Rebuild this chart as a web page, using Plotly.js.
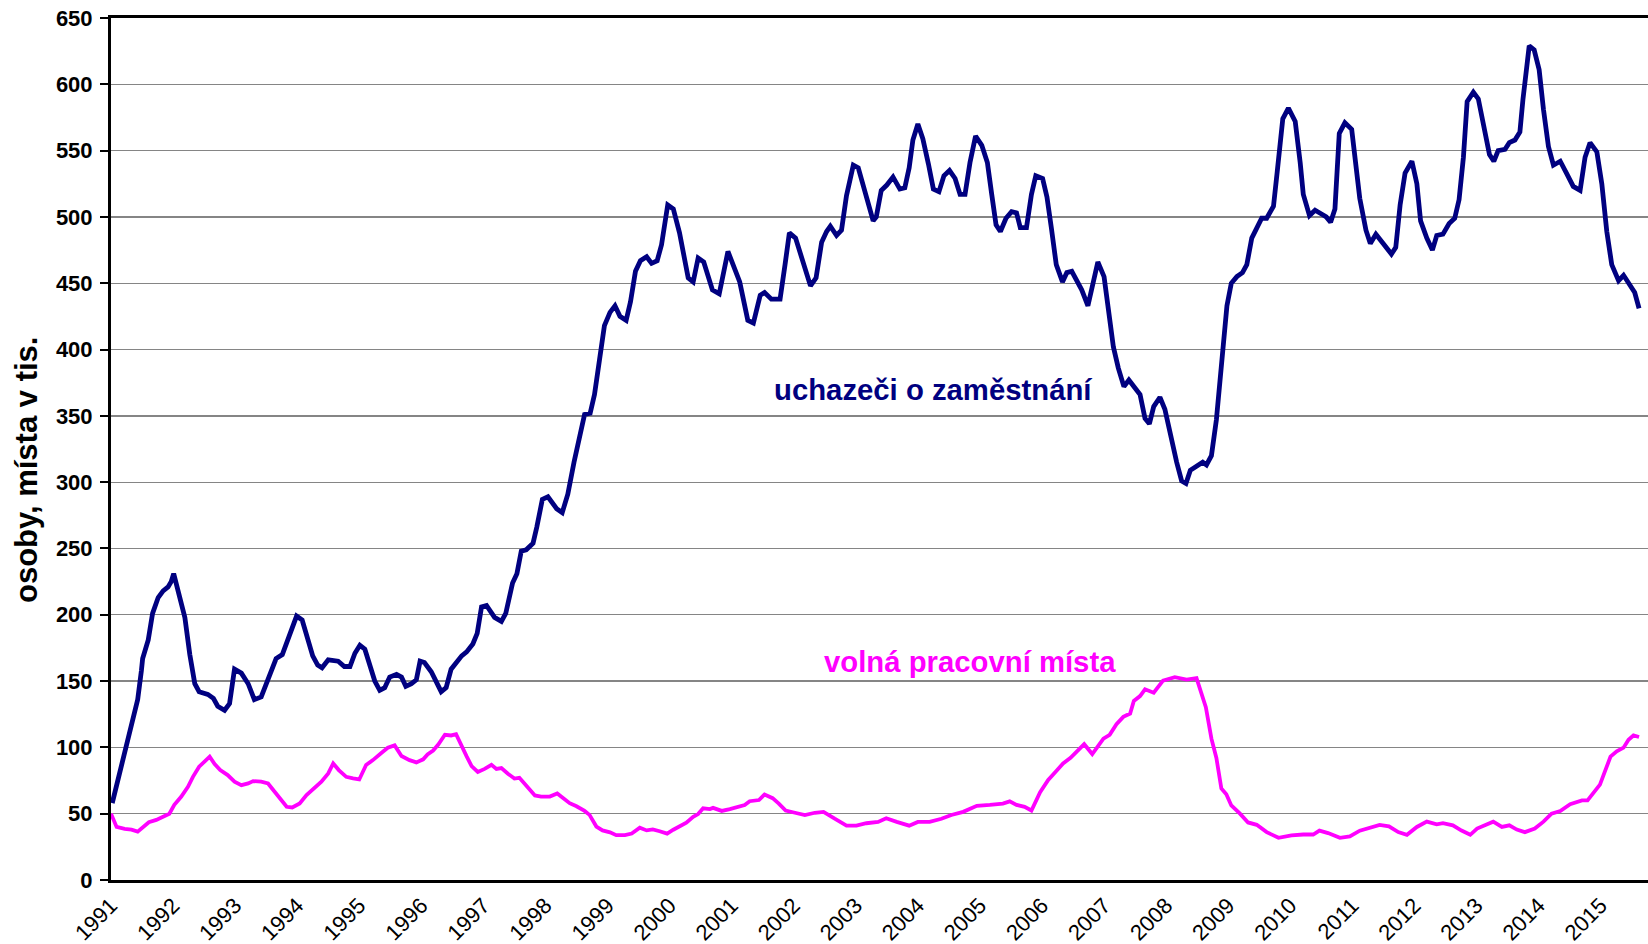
<!DOCTYPE html>
<html>
<head>
<meta charset="utf-8">
<script src="https://cdn.plot.ly/plotly-3.0.1.min.js"></script>
<style>
  html, body { margin: 0; padding: 0; background: #ffffff; }
  #chart { width: 1648px; height: 944px; }
</style>
</head>
<body>
<div id="chart"></div>
<script>
// ---- data (time in decimal years, values in thousands) ----
var tickYears = [1991,1992,1993,1994,1995,1996,1997,1998,1999,2000,2001,2002,2003,2004,2005,2006,2007,2008,2009,2010,2011,2012,2013,2014,2015];
var tickLabels = ["1991","1992","1993","1994","1995","1996","1997","1998","1999","2000","2001","2002","2003","2004","2005","2006","2007","2008","2009","2010","2011","2012","2013","2014","2015"];

var uchazeciTime = [
 1991.02,1991.19,1991.35,1991.43,1991.49,1991.51,1991.60,1991.67,1991.76,1991.84,1991.92,1991.97,
 1992.01,1992.09,1992.19,1992.27,1992.35,1992.42,1992.56,1992.65,1992.72,1992.83,1992.91,1992.99,
 1993.10,1993.21,1993.31,1993.42,1993.56,1993.66,1993.76,1993.88,1993.99,
 1994.08,1994.15,1994.25,1994.33,1994.40,1994.50,1994.66,1994.76,1994.85,1994.93,
 1995.01,1995.09,1995.17,1995.25,1995.33,1995.41,1995.49,1995.60,1995.68,1995.75,1995.84,1995.92,1995.98,
 1996.05,1996.16,1996.32,1996.40,1996.48,1996.65,1996.73,1996.83,1996.90,1996.97,
 1997.05,1997.18,1997.29,1997.36,1997.47,1997.54,1997.61,1997.69,1997.80,1997.86,1997.95,
 1998.04,1998.18,1998.27,1998.36,1998.46,1998.55,1998.63,1998.72,1998.79,1998.87,1998.95,
 1999.04,1999.12,1999.20,1999.30,1999.37,1999.45,1999.53,1999.63,1999.71,1999.80,1999.87,1999.97,
 2000.06,2000.16,2000.30,2000.38,2000.46,2000.55,2000.69,2000.80,2000.94,
 2001.02,2001.13,2001.26,2001.35,2001.46,2001.53,2001.64,2001.78,2001.86,2001.93,
 2002.03,2002.13,2002.21,2002.27,2002.36,2002.45,2002.53,2002.59,2002.69,2002.77,2002.85,2002.96,
 2003.04,2003.12,2003.20,2003.28,2003.33,2003.41,2003.50,2003.60,2003.71,2003.79,2003.86,2003.92,
 2004.00,2004.08,2004.17,2004.25,2004.34,2004.42,2004.51,2004.60,2004.68,2004.76,2004.84,2004.93,
 2005.03,2005.12,2005.19,2005.26,2005.33,2005.42,2005.51,2005.59,2005.65,2005.75,2005.83,2005.90,
 2006.01,2006.08,2006.15,2006.23,2006.33,2006.40,2006.48,2006.56,2006.64,2006.74,2006.82,2006.90,
 2007.00,2007.07,2007.15,2007.23,2007.32,2007.40,2007.50,2007.58,2007.66,2007.73,2007.80,2007.90,2007.98,
 2008.06,2008.17,2008.25,2008.32,2008.39,2008.49,2008.59,2008.65,2008.73,2008.81,2008.87,2008.92,2008.98,
 2009.05,2009.14,2009.23,2009.30,2009.38,2009.46,2009.54,2009.62,2009.73,2009.79,2009.88,2009.97,
 2010.08,2010.16,2010.21,2010.31,2010.40,2010.51,2010.58,2010.65,2010.72,2010.79,2010.88,2010.99,
 2011.04,2011.12,2011.22,2011.29,2011.38,2011.47,2011.55,2011.63,2011.70,2011.77,2011.85,2011.96,
 2012.04,2012.10,2012.20,2012.29,2012.36,2012.46,2012.56,2012.65,2012.72,2012.79,2012.85,2012.95,
 2013.03,2013.11,2013.21,2013.28,2013.35,2013.46,2013.53,2013.62,2013.70,2013.75,2013.85,2013.93,
 2014.01,2014.08,2014.16,2014.24,2014.35,2014.45,2014.56,2014.67,2014.75,2014.83,2014.94,
 2015.02,2015.10,2015.18,2015.29,2015.37,2015.46,2015.55,2015.62
];
var uchazeci = [
 58,90,118,136,158,167,181,201,213,218,221,225,
 231,216,198,170,148,142,140,137,131,128,133,159,
 156,148,136,138,156,167,170,184,199,
 196,186,169,162,160,166,165,161,161,171,
 177,174,161,150,143,145,153,155,153,146,148,151,165,
 164,157,142,145,159,169,172,178,186,206,
 207,198,195,201,224,231,248,249,254,266,287,
 289,280,277,291,315,334,351,352,366,392,418,
 428,433,425,422,436,459,467,470,465,467,479,509,
 506,488,454,451,469,466,445,442,474,
 465,451,422,420,441,443,438,438,464,488,
 484,469,455,448,454,481,489,493,486,490,516,539,
 537,523,508,497,500,520,524,530,521,522,537,558,
 570,559,540,521,519,531,535,529,517,517,541,561,
 554,541,517,494,489,499,504,503,492,492,517,531,
 529,515,492,464,451,458,459,452,445,433,450,466,
 455,431,402,386,372,377,371,366,348,344,357,364,355,
 337,315,301,299,309,312,315,313,320,347,380,406,433,
 450,455,458,464,484,492,499,499,508,534,574,582,
 572,541,517,501,505,502,500,496,506,563,571,566,
 548,514,490,480,487,482,477,472,477,509,533,542,
 525,497,484,475,486,487,495,499,513,545,587,594,
 589,569,547,542,550,551,556,558,564,589,629,626,
 611,581,553,539,542,533,523,520,545,556,549,
 525,489,464,452,456,450,443,431
];

var mistaTime = [
 1991.00,1991.09,1991.22,1991.33,1991.43,1991.51,1991.61,1991.73,1991.84,1991.94,
 1992.02,1992.13,1992.24,1992.32,1992.42,1992.51,1992.59,1992.67,1992.76,1992.88,1992.99,
 1993.10,1993.21,1993.29,1993.42,1993.53,1993.61,1993.72,1993.83,1993.92,
 1994.04,1994.15,1994.28,1994.39,1994.50,1994.58,1994.67,1994.79,1994.90,
 1995.00,1995.11,1995.22,1995.36,1995.46,1995.57,1995.68,1995.81,1995.92,
 1996.03,1996.10,1996.19,1996.27,1996.38,1996.48,1996.56,1996.65,1996.73,1996.81,1996.91,
 1997.02,1997.13,1997.21,1997.29,1997.40,1997.50,1997.58,1997.69,1997.83,1997.93,
 1998.07,1998.19,1998.28,1998.39,1998.50,1998.63,1998.71,1998.82,1998.92,
 1999.04,1999.14,1999.28,1999.39,1999.52,1999.63,1999.73,1999.84,1999.96,
 2000.06,2000.19,2000.27,2000.38,2000.46,2000.54,2000.65,2000.70,2000.84,2000.97,
 2001.10,2001.21,2001.29,2001.44,2001.53,2001.66,2001.76,2001.87,
 2002.02,2002.18,2002.34,2002.48,2002.66,2002.85,
 2003.01,2003.17,2003.36,2003.49,2003.66,2003.86,
 2004.00,2004.19,2004.38,2004.54,2004.73,2004.95,
 2005.16,2005.37,2005.48,2005.59,2005.72,2005.83,2005.97,
 2006.10,2006.22,2006.34,2006.46,2006.56,2006.68,2006.81,2006.99,
 2007.09,2007.20,2007.31,2007.42,2007.48,2007.58,2007.66,2007.80,2007.95,
 2008.14,2008.33,2008.49,2008.64,2008.73,2008.81,2008.89,2008.97,
 2009.05,2009.19,2009.32,2009.46,2009.62,2009.81,
 2010.02,2010.21,2010.37,2010.47,2010.61,2010.80,2010.96,
 2011.12,2011.28,2011.44,2011.59,2011.74,2011.88,
 2012.04,2012.20,2012.36,2012.46,2012.62,2012.76,2012.90,
 2013.01,2013.14,2013.27,2013.41,2013.53,2013.65,2013.78,2013.94,
 2014.08,2014.21,2014.35,2014.51,2014.70,2014.79,2014.88,2014.99,
 2015.07,2015.16,2015.26,2015.37,2015.45,2015.53,2015.62
];
var volnaMista = [
 50,40,38.5,38,36.5,40,43.6,45.3,47.4,50,
 56.7,62.7,70.3,77.8,85.4,89.2,93,87.4,82.9,79.1,74.1,
 71.5,72.8,74.6,74.1,72.8,67.8,61.5,55.2,54.7,
 57.7,64,69,74.1,80.4,87.9,82.9,77.8,76.6,
 75.8,86.7,90.4,96,99.7,101.5,93.5,90.4,88.7,
 91,94.7,97.6,102,109.5,109,110,100.6,93.2,85.9,81.5,
 83.8,86.8,83.8,84.4,80,76.5,77.1,71.2,63.8,62.9,
 62.9,65.3,61.8,57.9,55.6,52.1,49.1,40.3,37.4,
 35.9,33.8,33.8,35,39.4,37.4,38.2,36.8,35,
 37.9,40.9,43.2,47.6,49.7,54.1,53.5,54.4,52.1,53.5,
 55,56.5,59.4,60.3,64.5,61.7,57.6,52.4,
 50.7,49,50.7,51.4,46.2,41,
 41,42.8,43.8,46.6,43.8,41,
 43.8,43.8,46.2,49,51.4,55.9,
 56.6,57.6,59.3,56.6,55.2,52.4,66.2,
 75.5,81.7,87.9,92.1,97.2,102.4,95,106.6,
 109.5,117.5,123,125.5,135,138.7,143.8,141.2,150.4,
 152.9,151.1,152.2,130.3,106.6,92,69,64.6,
 56.2,50,43.4,41.6,36.1,31.8,
 33.6,34.3,34.3,37.2,35.4,31.8,32.8,
 37.2,39.1,41.6,40.5,36.1,34.1,
 40,44,42,42.8,41.2,37.3,34.1,
 38.8,41.2,44,40,41.2,38,36.1,38.8,
 44,50,52,57.2,60,60,65.1,71.9,
 81.9,93,97,99.8,105.8,109,107.8
];

var seriesNames = ["uchazeči o zaměstnání", "volná pracovní místa"];
var yTitle = "osoby, místa v tis.";

var FONT = "Liberation Sans, Arial, sans-serif";

var traces = [
  { x: uchazeciTime, y: uchazeci, type: "scatter", mode: "lines", name: seriesNames[0],
    line: { color: "#000080", width: 4.8 }, hoverinfo: "skip" },
  { x: mistaTime, y: volnaMista, type: "scatter", mode: "lines", name: seriesNames[1],
    line: { color: "#FF00FF", width: 3.8 }, hoverinfo: "skip" }
];

var layout = {
  width: 1648, height: 944,
  margin: { l: 111, r: 0, t: 18, b: 64, pad: 0 },
  paper_bgcolor: "#ffffff", plot_bgcolor: "#ffffff",
  showlegend: false,
  font: { family: FONT, color: "#000000" },
  xaxis: {
    type: "linear", range: [1991, 2015.764],
    tickmode: "array", tickvals: tickYears, ticktext: tickLabels,
    tickangle: -45, ticks: "", ticklabelstandoff: 1,
    tickfont: { family: FONT, size: 22, color: "#000000" },
    showgrid: false, zeroline: false,
    showline: true, linecolor: "#000000", linewidth: 3, mirror: true
  },
  yaxis: {
    range: [0, 650], tick0: 0, dtick: 50,
    ticks: "outside", ticklen: 8, tickwidth: 2, tickcolor: "#000000",
    ticklabelstandoff: 3,
    tickfont: { family: FONT, size: 22, color: "#000000", weight: "bold" },
    showgrid: true, gridcolor: "#858585", gridwidth: 1.3,
    zeroline: false, showline: true, linecolor: "#000000", linewidth: 3
  },
  annotations: [
    { text: seriesNames[0], xref: "x", yref: "y", x: 2004.25, y: 370, showarrow: false,
      xanchor: "center", yanchor: "middle",
      font: { family: FONT, size: 29.3, color: "#000080", weight: "bold" } },
    { text: seriesNames[1], xref: "x", yref: "y", x: 2004.84, y: 165, showarrow: false,
      xanchor: "center", yanchor: "middle",
      font: { family: FONT, size: 29.3, color: "#FF00FF", weight: "bold" } },
    { text: yTitle, xref: "paper", yref: "paper", x: -0.0553, y: 0.4756, showarrow: false,
      textangle: -90, xanchor: "center", yanchor: "middle",
      font: { family: FONT, size: 31, color: "#000000", weight: "bold" } }
  ]
};

Plotly.newPlot("chart", traces, layout, { displayModeBar: false, staticPlot: true });
</script>
</body>
</html>
